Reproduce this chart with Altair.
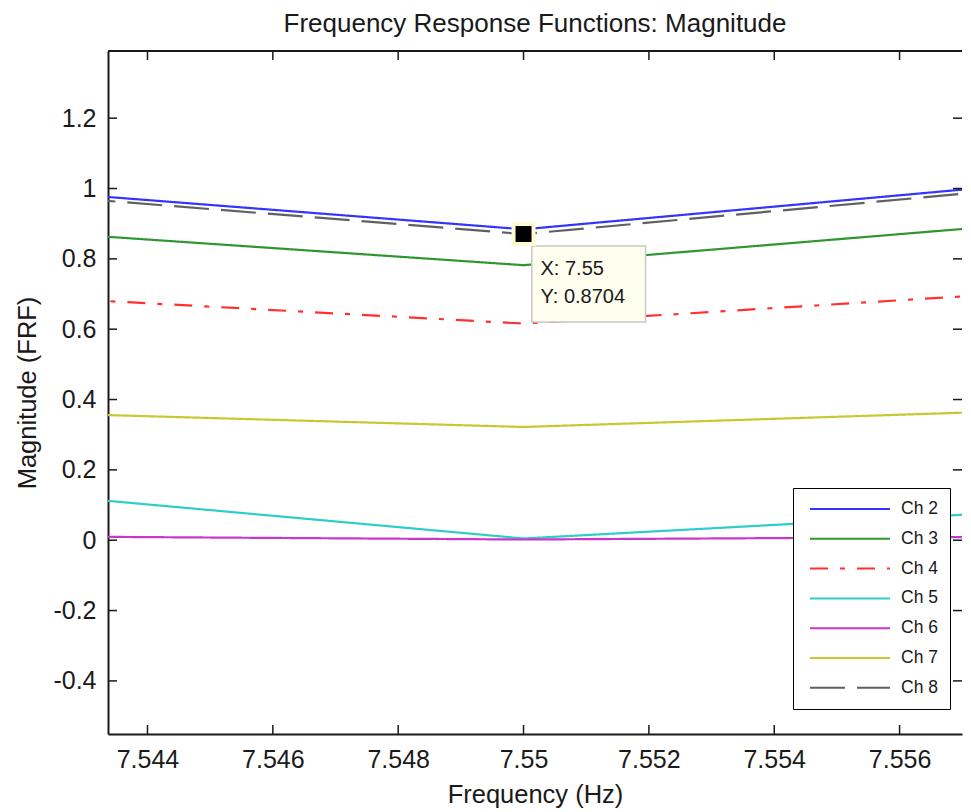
import altair as alt
import pandas as pd

# ---- data ----
channels = ["Ch 2", "Ch 3", "Ch 4", "Ch 5", "Ch 6", "Ch 7", "Ch 8"]
freqs = [7.54293, 7.55, 7.55707]
ch2 = [0.982, 0.884, 0.998]
ch3 = [0.868, 0.782, 0.886]
ch4 = [0.684, 0.616, 0.694]
ch5 = [0.119, 0.005, 0.073]
ch6 = [0.010, 0.002, 0.009]
ch7 = [0.358, 0.322, 0.363]
ch8 = [0.971, 0.8704, 0.986]
series = [ch2, ch3, ch4, ch5, ch6, ch7, ch8]

colors = ["#3434ff", "#2f972f", "#ff3030", "#30cccc", "#c936c9", "#c8c832", "#606060"]
dashes = [[1, 0], [1, 0], [18, 12, 5, 12], [1, 0], [1, 0], [1, 0], [35, 12]]

x_ticks = [7.544, 7.546, 7.548, 7.55, 7.552, 7.554, 7.556]
y_ticks = [-0.4, -0.2, 0, 0.2, 0.4, 0.6, 0.8, 1.0, 1.2]
x_domain = [7.54337, 7.556996]
y_domain = [-0.551, 1.391]

tip_x = 7.55
tip_y = 0.8704

W, H = 854, 683
TICK = 9
FONT = "Liberation Sans"

rows = []
for name, vals in zip(channels, series):
    for f, v in zip(freqs, vals):
        rows.append({"channel": name, "freq": f, "mag": v})
df = pd.DataFrame(rows)

xs = alt.Scale(domain=x_domain, nice=False, zero=False)
ys = alt.Scale(domain=y_domain, nice=False, zero=False)

x_axis = alt.Axis(values=x_ticks, labelExpr="format(datum.value, '.3~f')", ticks=False,
                  grid=False, domainColor="#1a1a1a", domainWidth=2, labelFontSize=25,
                  labelPadding=13, titleFontSize=25.5, titleFontWeight="normal",
                  titlePadding=10, labelColor="#1a1a1a", titleColor="#1a1a1a")
y_axis = alt.Axis(values=y_ticks,
                  labelExpr="datum.value < 0 ? '-' + format(-datum.value, '.1~f') : format(datum.value, '.1~f')",
                  ticks=False, grid=False, domainColor="#1a1a1a", domainWidth=2,
                  labelFontSize=25, labelPadding=12, titleFontSize=25.5,
                  titleFontWeight="normal", titlePadding=12, labelColor="#1a1a1a",
                  titleColor="#1a1a1a")

legend = alt.Legend(title=None, orient="none", legendX=685, legendY=437,
                    symbolType="stroke", symbolSize=6400, symbolStrokeWidth=2,
                    symbolOffset=4, labelFontSize=17.5, labelOffset=10,
                    rowPadding=11.8, clipHeight=18, padding=12,
                    strokeColor="black", fillColor="white", labelColor="#1a1a1a")

lines = alt.Chart(df).mark_line(clip=True, strokeWidth=2.2).encode(
    x=alt.X("freq:Q", scale=xs, axis=x_axis, title="Frequency (Hz)"),
    y=alt.Y("mag:Q", scale=ys, axis=y_axis, title="Magnitude (FRF)"),
    color=alt.Color("channel:N", scale=alt.Scale(domain=channels, range=colors), legend=legend),
    strokeDash=alt.StrokeDash("channel:N", scale=alt.Scale(domain=channels, range=dashes), legend=legend),
    detail="channel:N",
)

ydf = pd.DataFrame({"v": y_ticks})
xdf = pd.DataFrame({"v": x_ticks})
tick_style = dict(color="#1a1a1a", strokeWidth=1.5)

left_ticks = alt.Chart(ydf).mark_rule(**tick_style).encode(
    y=alt.Y("v:Q", scale=ys), x=alt.value(0), x2=alt.value(TICK))
right_ticks = alt.Chart(ydf).mark_rule(**tick_style).encode(
    y=alt.Y("v:Q", scale=ys), x=alt.value(W - TICK), x2=alt.value(W))
bottom_ticks = alt.Chart(xdf).mark_rule(**tick_style).encode(
    x=alt.X("v:Q", scale=xs), y=alt.value(H - TICK), y2=alt.value(H))
top_ticks = alt.Chart(xdf).mark_rule(**tick_style).encode(
    x=alt.X("v:Q", scale=xs), y=alt.value(0), y2=alt.value(TICK))
top_line = alt.Chart(ydf.head(1)).mark_rule(color="#1a1a1a", strokeWidth=2).encode(
    x=alt.value(0), x2=alt.value(W), y=alt.value(0))

tip = pd.DataFrame({"freq": [tip_x], "mag": [tip_y],
                    "lx": [f"X: {tip_x}"], "ly": [f"Y: {tip_y}"]})
box = alt.Chart(tip).mark_point(
    shape="M0.083,0.12H1.22V0.88H0.083Z", size=40000, filled=True,
    fill="#fffff0", stroke="#c8c8c8", strokeWidth=1.5, opacity=1).encode(
    x=alt.X("freq:Q", scale=xs), y=alt.Y("mag:Q", scale=ys))
marker = alt.Chart(tip).mark_point(
    shape="square", size=400, filled=True, fill="black", stroke="#fffbd0",
    strokeWidth=4, opacity=1).encode(
    x=alt.X("freq:Q", scale=xs), y=alt.Y("mag:Q", scale=ys))
tx = alt.Chart(tip).mark_text(align="left", baseline="middle", dx=17, dy=35,
                              fontSize=20, color="#1a1a1a").encode(
    x=alt.X("freq:Q", scale=xs), y=alt.Y("mag:Q", scale=ys), text="lx:N")
ty = alt.Chart(tip).mark_text(align="left", baseline="middle", dx=17, dy=63,
                              fontSize=20, color="#1a1a1a").encode(
    x=alt.X("freq:Q", scale=xs), y=alt.Y("mag:Q", scale=ys), text="ly:N")

chart = alt.layer(
    lines, box, marker, tx, ty, left_ticks, right_ticks, bottom_ticks, top_ticks, top_line
).properties(
    width=W, height=H,
    title=alt.Title("Frequency Response Functions: Magnitude", fontSize=26,
                    fontWeight="normal", color="#1a1a1a", offset=13),
    padding={"left": 7, "top": 3, "right": 0, "bottom": 0},
).configure(font=FONT).configure_view(stroke=None)

chart.save("out.html", embed_options={"renderer": "svg", "actions": False})
